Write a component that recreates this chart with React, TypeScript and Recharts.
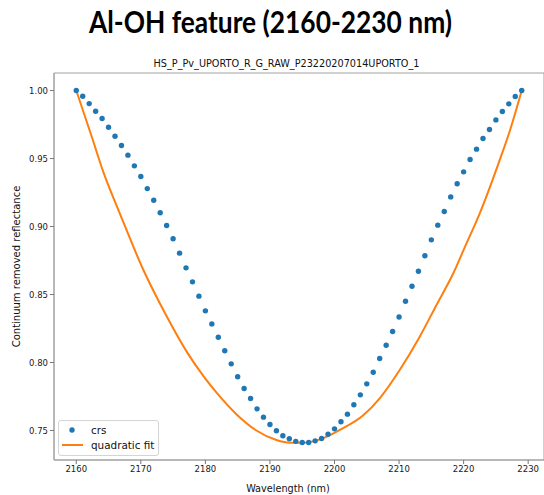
import { ComposedChart, XAxis, YAxis, Scatter, Line, ReferenceArea } from 'recharts';

const FONT = '"DejaVu Sans", sans-serif';
const BLUE = '#1f77b4';
const ORANGE = '#ff7f0e';

// continuum-removed spectrum, one sample per nm
const wavelengths = [
  2160, 2161, 2162, 2163, 2164, 2165, 2166, 2167, 2168, 2169,
  2170, 2171, 2172, 2173, 2174, 2175, 2176, 2177, 2178, 2179,
  2180, 2181, 2182, 2183, 2184, 2185, 2186, 2187, 2188, 2189,
  2190, 2191, 2192, 2193, 2194, 2195, 2196, 2197, 2198, 2199,
  2200, 2201, 2202, 2203, 2204, 2205, 2206, 2207, 2208, 2209,
  2210, 2211, 2212, 2213, 2214, 2215, 2216, 2217, 2218, 2219,
  2220, 2221, 2222, 2223, 2224, 2225, 2226, 2227, 2228, 2229,
];
const crs = [
  1.0, 0.9958, 0.9904, 0.9848, 0.9794, 0.973, 0.9664, 0.9596, 0.9525, 0.9446,
  0.9368, 0.9279, 0.9193, 0.9101, 0.9007, 0.891, 0.8804, 0.8696, 0.8593, 0.8488,
  0.838, 0.8284, 0.8186, 0.8086, 0.799, 0.7895, 0.7809, 0.7735, 0.7659, 0.7598,
  0.7544, 0.7498, 0.7461, 0.7439, 0.742, 0.7412, 0.7412, 0.7424, 0.7441, 0.7473,
  0.7512, 0.7564, 0.762, 0.7689, 0.7762, 0.7843, 0.7928, 0.8029, 0.8127, 0.8228,
  0.8335, 0.845, 0.8561, 0.8671, 0.8785, 0.8902, 0.901, 0.911, 0.9218, 0.9314,
  0.9402, 0.9493, 0.9569, 0.9647, 0.9713, 0.9784, 0.9846, 0.9902, 0.9956, 1.0,
];

// quadratic fit curve
const fitWavelengths = [
  2160, 2162.4, 2164.2, 2166.8, 2170.4, 2174.0, 2177.1, 2179.7, 2181.7, 2184.8,
  2187.9, 2191.0, 2193.1, 2195.1, 2197.75, 2200.8, 2204.5, 2207.0, 2210.1, 2213.2,
  2215.8, 2218.4, 2220.2, 2222.5, 2225.6, 2227.2, 2229,
];
const fitValues = [
  1.0, 0.966, 0.94, 0.909, 0.868, 0.834, 0.808, 0.79, 0.778, 0.762,
  0.75, 0.743, 0.741, 0.741, 0.7435, 0.7504, 0.7614, 0.7737, 0.7945, 0.819,
  0.8423, 0.8656, 0.885, 0.9097, 0.949, 0.971, 1.0,
];

const xTicks = [2160, 2170, 2180, 2190, 2200, 2210, 2220, 2230];
const yTicks = [0.75, 0.8, 0.85, 0.9, 0.95, 1.0];

const X_DOMAIN: [number, number] = [2156.55, 2232.45];
const Y_DOMAIN: [number, number] = [0.7283, 1.0129];

const crsData = wavelengths.map((x, i) => ({ x, y: crs[i] }));
const fitData = fitWavelengths.map((x, i) => ({ x, y: fitValues[i] }));

const dot = (props: any) => <circle cx={props.cx} cy={props.cy} r={2.7} fill={BLUE} />;

export default function App() {
  return (
    <div
      style={{
        position: 'fixed',
        left: 0,
        top: 0,
        width: 544,
        height: 495,
        background: '#fff',
        fontFamily: FONT,
        overflow: 'hidden',
      }}
    >
      <ComposedChart
        width={544}
        height={495}
        margin={{ top: 73, right: 0, bottom: 0, left: 0 }}
      >
        <XAxis
          type="number"
          dataKey="x"
          domain={X_DOMAIN}
          ticks={xTicks}
          allowDataOverflow
          height={35}
          tickSize={4}
          tickMargin={2}
          axisLine={{ stroke: '#a0a0a0' }}
          tickLine={{ stroke: '#777' }}
          tick={{ fontSize: 8.5, fill: '#1a1a1a', fontFamily: FONT }}
        />
        <YAxis
          type="number"
          dataKey="y"
          domain={Y_DOMAIN}
          ticks={yTicks}
          allowDataOverflow
          width={54}
          tickSize={4}
          tickMargin={2}
          tickFormatter={(v: number) => v.toFixed(2)}
          axisLine={{ stroke: '#a0a0a0' }}
          tickLine={{ stroke: '#777' }}
          tick={{ fontSize: 8.5, fill: '#1a1a1a', fontFamily: FONT }}
        />
        <ReferenceArea
          x1={X_DOMAIN[0]}
          x2={X_DOMAIN[1]}
          y1={Y_DOMAIN[0]}
          y2={Y_DOMAIN[1]}
          fill="none"
          stroke="#a0a0a0"
          strokeWidth={1}
        />
        <Scatter data={crsData} dataKey="y" shape={dot} isAnimationActive={false} />
        <Line
          data={fitData}
          dataKey="y"
          type="monotone"
          stroke={ORANGE}
          strokeWidth={2}
          dot={false}
          activeDot={false}
          isAnimationActive={false}
        />
      </ComposedChart>

      <svg
        width={544}
        height={495}
        style={{ position: 'absolute', left: 0, top: 0, pointerEvents: 'none' }}
      >
        <text
          x={270.5}
          y={33}
          textAnchor="middle"
          fontFamily='Lato, "Open Sans", sans-serif'
          fontWeight={700}
          fontSize={30}
          textLength={363}
          lengthAdjust="spacingAndGlyphs"
          fill="#000"
        >
          Al-OH feature (2160-2230 nm)
        </text>
        <text x={286.5} y={66.5} textAnchor="middle" fontFamily={FONT} fontSize={9.7} fill="#111">
          HS_P_Pv_UPORTO_R_G_RAW_P23220207014UPORTO_1
        </text>
        <text x={288} y={492} textAnchor="middle" fontFamily={FONT} fontSize={9.7} fill="#111">
          Wavelength (nm)
        </text>
        <text
          x={19.5}
          y={266.5}
          textAnchor="middle"
          transform="rotate(-90, 19.5, 266.5)"
          fontFamily={FONT}
          fontSize={10}
          fill="#111"
        >
          Continuum removed reflectance
        </text>
      </svg>

      <div
        style={{
          position: 'absolute',
          left: 58,
          top: 420,
          width: 101,
          height: 36,
          boxSizing: 'border-box',
          border: '1px solid #d4d4d4',
          borderRadius: 3,
          background: 'rgba(255,255,255,0.85)',
        }}
      >
        <svg width={101} height={36} style={{ position: 'absolute', left: -1, top: -1 }}>
          <circle cx={14} cy={10} r={2.7} fill={BLUE} />
          <text x={33} y={13.8} fontFamily={FONT} fontSize={10.4} fill="#111">
            crs
          </text>
          <line x1={4} y1={25} x2={25} y2={25} stroke={ORANGE} strokeWidth={2} />
          <text x={33} y={28.8} fontFamily={FONT} fontSize={10.4} fill="#111">
            quadratic fit
          </text>
        </svg>
      </div>
    </div>
  );
}
